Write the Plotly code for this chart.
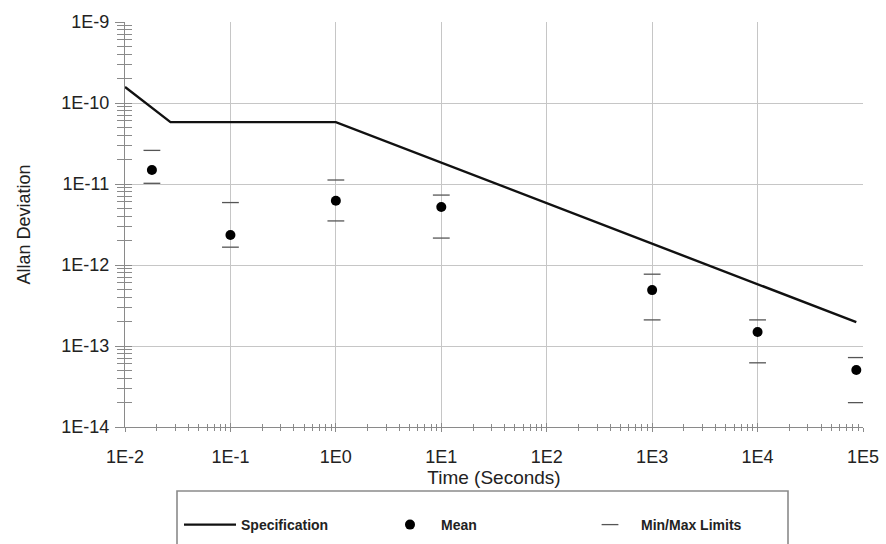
import plotly.graph_objects as go

# ---- data ----
spec_x = [0.01, 0.027, 1.0, 86400]
spec_y = [1.58e-10, 5.8e-11, 5.8e-11, 1.97e-13]

mean_x = [0.018, 0.1, 1.0, 10.0, 1000.0, 10000.0, 86400.0]
mean_y = [1.49e-11, 2.35e-12, 6.2e-12, 5.2e-12, 4.9e-13, 1.49e-13, 5.06e-14]
max_y = [2.6e-11, 5.9e-12, 1.12e-11, 7.3e-12, 7.7e-13, 2.1e-13, 7.2e-14]
min_y = [1.02e-11, 1.66e-12, 3.5e-12, 2.15e-12, 2.1e-13, 6.2e-14, 2.0e-14]

x_tickvals = [1e-2, 1e-1, 1e0, 1e1, 1e2, 1e3, 1e4, 1e5]
x_ticktext = ["1E-2", "1E-1", "1E0", "1E1", "1E2", "1E3", "1E4", "1E5"]
y_tickvals = [1e-14, 1e-13, 1e-12, 1e-11, 1e-10, 1e-9]
y_ticktext = ["1E-14", "1E-13", "1E-12", "1E-11", "1E-10", "1E-9"]

FONT = "Liberation Sans, Arial, sans-serif"
AX = "#8a8a8a"
GRID = "#c6c6c6"
W, H = 886, 544

fig = go.Figure()
fig.add_trace(go.Scatter(x=spec_x, y=spec_y, mode="lines", name="Specification",
                         line=dict(color="#111111", width=2.4)))
fig.add_trace(go.Scatter(x=mean_x, y=mean_y, mode="markers", name="Mean",
                         marker=dict(symbol="circle", size=10, color="#000000")))
fig.add_trace(go.Scatter(x=mean_x + mean_x, y=max_y + min_y, mode="markers",
                         name="Min/Max Limits",
                         marker=dict(symbol="line-ew", size=12, color="#555555",
                                     line=dict(color="#555555", width=1.3))))
# invisible trace so the overlay axes (inner tick halves) render
fig.add_trace(go.Scatter(x=[1e-2], y=[1e-14], xaxis="x2", yaxis="y2", mode="markers",
                         marker=dict(opacity=0), showlegend=False, hoverinfo="skip"))

# plot area in pixels: x 125..863, y 22..427
def px_x(p):
    return (p - 125) / 738.0

def px_y(p):
    return (427 - p) / 405.0

fig.update_layout(
    width=W, height=H,
    margin=dict(l=125, r=23, t=22, b=117, autoexpand=False),
    paper_bgcolor="white", plot_bgcolor="white",
    font=dict(family=FONT, color="#222222", size=18),
    showlegend=True,
    legend=dict(orientation="h", xref="container", yref="container",
                x=179 / W, y=1 - 509 / H, xanchor="left", yanchor="top",
                borderwidth=0, bgcolor="rgba(0,0,0,0)",
                font=dict(size=14, color="#222222", weight="bold"),
                entrywidth=133, entrywidthmode="pixels",
                itemwidth=52),
    shapes=[dict(type="rect", xref="paper", yref="paper",
                 x0=px_x(177), x1=px_x(788), y0=px_y(491), y1=px_y(560),
                 line=dict(color="#8a8a8a", width=1.6), fillcolor="rgba(0,0,0,0)",
                 layer="below")],
    xaxis=dict(type="log", range=[-2, 5], tickvals=x_tickvals, ticktext=x_ticktext,
               showgrid=True, gridcolor=GRID, gridwidth=1.3,
               showline=True, linecolor=AX, linewidth=1.3,
               ticks="outside", ticklen=4, tickcolor=AX,
               minor=dict(ticks="outside", ticklen=3, tickcolor=AX, showgrid=False,
                          dtick="D1"),
               zeroline=False, automargin=False,
               ticklabelstandoff=9,
               title=dict(text="Time (Seconds)", font=dict(size=19), standoff=3),
               tickfont=dict(size=18)),
    yaxis=dict(type="log", range=[-14, -9], tickvals=y_tickvals, ticktext=y_ticktext,
               showgrid=True, gridcolor=GRID, gridwidth=1.3,
               showline=True, linecolor=AX, linewidth=1.3,
               ticks="outside", ticklen=9, tickcolor=AX,
               minor=dict(ticks="outside", ticklen=7, tickcolor=AX, showgrid=False,
                          dtick="D1"),
               zeroline=False, automargin=False,
               ticklabelstandoff=2,
               title=dict(text="Allan Deviation", font=dict(size=18), standoff=25),
               tickfont=dict(size=18)),
    xaxis2=dict(type="log", range=[-2, 5], overlaying="x", side="bottom", anchor="y2",
                showgrid=False, showline=False, zeroline=False, showticklabels=False,
                tickvals=x_tickvals, ticks="inside", ticklen=4, tickcolor=AX,
                minor=dict(ticks="inside", ticklen=3, tickcolor=AX, dtick="D1")),
    yaxis2=dict(type="log", range=[-14, -9], overlaying="y", side="left", anchor="x2",
                showgrid=False, showline=False, zeroline=False, showticklabels=False,
                tickvals=y_tickvals, ticks="inside", ticklen=7, tickcolor=AX,
                minor=dict(ticks="inside", ticklen=7, tickcolor=AX, dtick="D1")),
)

fig.write_html("out.html")
